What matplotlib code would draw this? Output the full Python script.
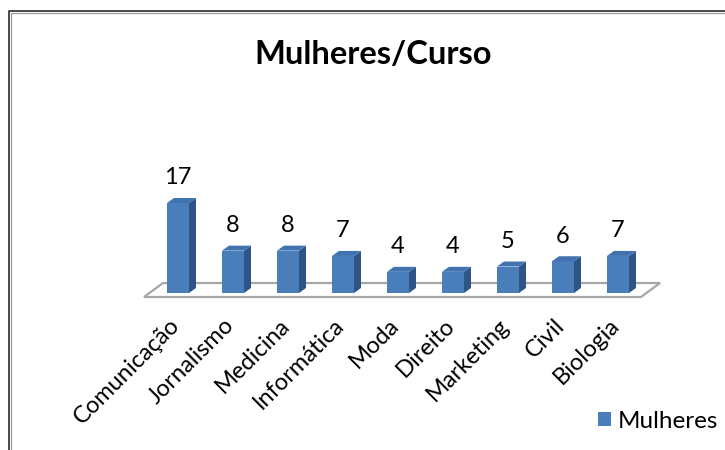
import matplotlib
matplotlib.use('Agg')
import matplotlib.pyplot as plt
from matplotlib.patches import Polygon, Patch
from matplotlib.lines import Line2D

categories = ['Comunicação', 'Jornalismo', 'Medicina', 'Informática', 'Moda',
              'Direito', 'Marketing', 'Civil', 'Biologia']
values = [17, 8, 8, 7, 4, 4, 5, 6, 7]
series_name = 'Mulheres'
title = 'Mulheres/Curso'

plt.rcParams['font.family'] = ['Lato', 'DejaVu Sans']

W, H = 725, 450
fig = plt.figure(figsize=(7.25, 4.5), dpi=100)
ax = fig.add_axes([0, 0, 1, 1])
ax.set_axis_off()

# pixel <-> data mapping
x0_px, step_px = 178, 55
base_top_px = 293
unit_px = 90 / 17
base_pb = H - base_top_px
ax.set_xlim((0 - x0_px) / step_px, (W - x0_px) / step_px)
ax.set_ylim((0 - base_pb) / unit_px, (H - base_pb) / unit_px)
px = 1 / step_px
py = 1 / unit_px

front_c = '#4a7ebb'
top_c = '#4173b0'
side_c = '#2f5486'

n = len(categories)
xs = list(range(n))
bw = 22 * px
dx, dy = 7 * px, 5 * py

# floor
fl, fr = -34 * px, (n - 1) + 23 * px
fy = -4 * py
bdx, bdy = 19 * px, 14 * py
floor = Polygon([(fl, fy), (fr, fy), (fr + bdx, fy + bdy), (fl + bdx, fy + bdy)],
                closed=True, facecolor='white', edgecolor='#a6a6a6', lw=1.6, zorder=1)
ax.add_patch(floor)

bars = ax.bar(xs, values, width=bw, color=front_c, edgecolor='none', zorder=3)
for x, v in zip(xs, values):
    l, r = x - bw / 2, x + bw / 2
    ax.add_patch(Polygon([(r, 0), (r + dx, dy), (r + dx, v + dy), (r, v)],
                         closed=True, facecolor=side_c, edgecolor='none', zorder=3))
    ax.add_patch(Polygon([(l, v), (l + dx, v + dy), (r + dx, v + dy), (r, v)],
                         closed=True, facecolor=top_c, edgecolor='none', zorder=3))
    ax.text(x, v + 25 * py, str(v), ha='center', va='center', fontsize=17, color='black')

for x, c in zip(xs, categories):
    ax.text(x - 2 * px, -29 * py, c, rotation=45, rotation_mode='anchor',
            ha='right', va='center', fontsize=17, color='black')

fig.text(373 / W, 1 - 55 / H, title, ha='center', va='center', fontsize=23.5,
         fontweight='bold', color='black')

leg = fig.legend(handles=[Patch(facecolor=front_c, edgecolor='none', label=series_name)],
                 loc='center left', bbox_to_anchor=(598 / W, 1 - 421 / H), frameon=False,
                 fontsize=17.5, handlelength=0.55, handleheight=0.55, handletextpad=0.25,
                 borderpad=0, borderaxespad=0)

# chart border
fig.add_artist(Line2D([8.5 / W, 8.5 / W, 1], [0, 1 - 10.5 / H, 1 - 10.5 / H],
                      transform=fig.transFigure, color='#3a3a3a', lw=1.3))
fig.add_artist(Line2D([10.5 / W, 10.5 / W, 1], [0, 1 - 12.5 / H, 1 - 12.5 / H],
                      transform=fig.transFigure, color='#9a9a9a', lw=0.9))

fig.savefig('out.png', dpi=100, facecolor='white')
